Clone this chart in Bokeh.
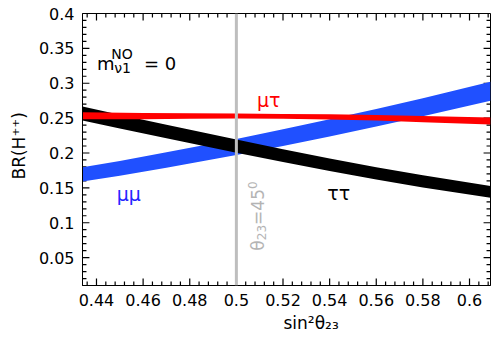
import numpy as np
from bokeh.plotting import figure
from bokeh.models import Range1d, FixedTicker, Span, Label, Title
from bokeh.embed import file_html
from bokeh.resources import INLINE

# ---- data ----
x_mumu = [0.434, 0.45, 0.47, 0.5, 0.52, 0.54, 0.56, 0.58, 0.609]
mumu_lo = [0.159, 0.1674, 0.179, 0.197, 0.2101, 0.2238, 0.2379, 0.2525, 0.275]
mumu_hi = [0.1796, 0.1886, 0.201, 0.220, 0.2339, 0.2482, 0.2631, 0.2785, 0.302]

x_tautau = [0.434, 0.45, 0.47, 0.5, 0.52, 0.54, 0.56, 0.58, 0.609]
tautau_lo = [0.2465, 0.2351, 0.2211, 0.2004, 0.1870, 0.1742, 0.1620, 0.1505, 0.1357]
tautau_hi = [0.2665, 0.2549, 0.2405, 0.2192, 0.2054, 0.1922, 0.1796, 0.1679, 0.1525]

x_mutau = [0.434, 0.46, 0.48, 0.5, 0.52, 0.54, 0.56, 0.58, 0.609]
mutau_lo = [0.2485, 0.2485, 0.249, 0.2495, 0.249, 0.248, 0.2465, 0.244, 0.2407]
mutau_hi = [0.2585, 0.2575, 0.257, 0.2565, 0.256, 0.2555, 0.2545, 0.253, 0.251]

theta_max = 0.5  # sin^2(theta23) = 0.5 (45 degrees)

x_ticks = [0.44, 0.46, 0.48, 0.5, 0.52, 0.54, 0.56, 0.58, 0.6]
x_tick_labels = ["0.44", "0.46", "0.48", "0.5", "0.52", "0.54", "0.56", "0.58", "0.6"]
y_ticks = [0.05, 0.1, 0.15, 0.2, 0.25, 0.3, 0.35, 0.4]
y_tick_labels = ["0.05", "0.1", "0.15", "0.2", "0.25", "0.3", "0.35", "0.4"]

x_lo, x_hi = 0.434, 0.609
y_lo, y_hi = 0.01, 0.4

FONT = "DejaVu Sans"
W, H = 500, 345
BL, BR, BT, BB = 78, 10, 13, 60

p = figure(width=W, height=H,
           x_range=Range1d(x_lo, x_hi), y_range=Range1d(y_lo, y_hi),
           output_backend="svg", toolbar_location=None,
           min_border_left=BL, min_border_right=BR,
           min_border_top=BT, min_border_bottom=BB)
p.grid.visible = False
p.outline_line_color = "black"
p.outline_line_width = 1
p.background_fill_color = "white"
p.border_fill_color = "white"

x_minor = [round(v, 4) for v in np.arange(0.436, 0.6091, 0.004) if round(v, 4) not in x_ticks]
y_minor = [round(v, 4) for v in np.arange(0.02, 0.4001, 0.01) if round(v, 4) not in y_ticks]

for ax, ticks, labels in ((p.xaxis[0], x_ticks, x_tick_labels),
                          (p.yaxis[0], y_ticks, y_tick_labels)):
    ax.ticker = FixedTicker(ticks=ticks)
    ax.major_label_overrides = {t: l for t, l in zip(ticks, labels)}
    ax.major_tick_in = 0
    ax.major_tick_out = 0
    ax.minor_tick_in = 0
    ax.minor_tick_out = 0
    ax.axis_line_color = "black"
    ax.major_label_text_font = FONT
    ax.major_label_text_font_size = "16px"
    ax.major_label_text_color = "black"
    ax.major_label_standoff = 8

# inward tick marks on all four sides (tick length converted from pixels)
dx_px = (x_hi - x_lo) / (W - BL - BR)
dy_px = (y_hi - y_lo) / (H - BT - BB)
TK = dict(line_color="black", line_width=1.2)
for ticks, n in ((x_ticks, 7), (x_minor, 4)):
    p.segment(x0=ticks, y0=y_lo, x1=ticks, y1=y_lo + n * dy_px, **TK)
    p.segment(x0=ticks, y0=y_hi, x1=ticks, y1=y_hi - n * dy_px, **TK)
for ticks, n in ((y_ticks, 7), (y_minor, 4)):
    p.segment(x0=x_lo, y0=ticks, x1=x_lo + n * dx_px, y1=ticks, **TK)
    p.segment(x0=x_hi, y0=ticks, x1=x_hi - n * dx_px, y1=ticks, **TK)

# bands
p.varea(x=x_mumu, y1=mumu_lo, y2=mumu_hi, fill_color="#2050ff")
p.varea(x=x_tautau, y1=tautau_lo, y2=tautau_hi, fill_color="black")
p.varea(x=x_mutau, y1=mutau_lo, y2=mutau_hi, fill_color="#ff0000")

# 45 degree line
p.add_layout(Span(location=theta_max, dimension="height",
                  line_color="#bebebe", line_width=3))

def lab(x, y, text, size, color="black", angle=0.0, align="left", baseline="alphabetic"):
    p.add_layout(Label(x=x, y=y, text=text, text_font=FONT, text_font_size=size,
                       text_color=color, angle=angle, text_align=align,
                       text_baseline=baseline))

# series labels
lab(0.5088, 0.2765, "μτ", "19px", "#ff0000")
lab(0.4487, 0.141, "μμ", "19px", "#2626ff")
lab(0.539, 0.142, "ττ", "19px", "black")

# rotated label theta_23 = 45^0 (pieces for sub/superscripts)
GR = "#b4b4b4"
lab(0.5094, 0.060, "θ", "17px", GR, angle=np.pi / 2)
lab(0.5106, 0.0749, "23", "12px", GR, angle=np.pi / 2)
lab(0.5094, 0.0969, "=45", "17px", GR, angle=np.pi / 2)
lab(0.5070, 0.1485, "0", "12px", GR, angle=np.pi / 2)

# m_{nu1}^{NO} = 0
lab(0.44025, 0.3287, "m", "18px")
lab(0.44634, 0.3415, "NO", "14px")
lab(0.44762, 0.3215, "ν1", "14px")
lab(0.46038, 0.3287, "= 0", "18px")

# axis titles
p.add_layout(Title(text="sin²θ₂₃", align="left", offset=201, standoff=4,
                   text_font=FONT, text_font_size="17px", text_font_style="normal",
                   text_color="black"), "below")
p.add_layout(Title(text="BR(H⁺⁺)", align="left", offset=106, standoff=13,
                   text_font=FONT, text_font_size="17px", text_font_style="normal",
                   text_color="black"), "left")

open("out.html", "w").write(file_html(p, INLINE))
